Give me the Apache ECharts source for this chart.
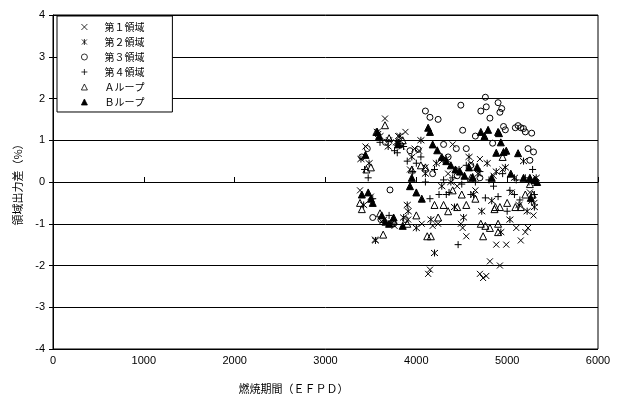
<!DOCTYPE html>
<html>
<head>
<meta charset="utf-8">
<script src="https://cdn.jsdelivr.net/npm/echarts@6/dist/echarts.min.js"></script>
<style>
  html, body { margin: 0; padding: 0; background: #fff; }
  #chart { width: 620px; height: 399px; }
</style>
</head>
<body>
<div id="chart"></div>
<script>
// axis ticks
const X_MIN = 0, X_MAX = 6000, X_STEP = 1000;
const Y_MIN = -4, Y_MAX = 4, Y_STEP = 1;

// legend labels
const seriesNames = ['第１領域', '第２領域', '第３領域', '第４領域', 'Ａループ', 'Ｂループ'];

// [EFPD, %]
const region1 = [
  [3380,-0.2],[3440,0.85],[3500,-0.35],[3545,-1.38],[3580,1.15],[3620,-0.95],[3655,1.52],[3700,1.0],
  [3760,-1.05],[3800,1.1],[3840,0.85],[3880,1.2],[3910,-0.9],[3930,0.3],[3980,0.8],[4030,0.75],
  [4060,-1.0],[4100,0.35],[4130,-2.2],[4150,-2.1],[4180,-1.05],[4240,-1.0],[4280,0.5],[4350,0.2],
  [4400,0.9],[4450,-0.1],[4490,-1.0],[4510,-1.1],[4550,-1.3],[4600,0.45],[4650,-0.2],[4700,-2.2],
  [4735,-2.3],[4770,-2.25],[4810,-1.9],[4880,-1.5],[4920,-2.0],[4990,-1.5],[4950,0.3],[5050,-0.25],
  [5100,-1.1],[5150,-1.4],[5200,-1.2],[5230,-1.1],[5250,-0.25],[5290,-0.8],[5300,-0.5],[4700,0.55],[4850,0.15]
];
const region2 = [
  [3390,0.55],[3420,-0.55],[3480,0.45],[3550,-1.4],[3570,1.2],[3600,1.1],[3640,-0.9],[3690,0.85],
  [3720,-1.0],[3780,0.95],[3820,1.1],[3860,-0.85],[3900,-0.55],[3910,-0.7],[3950,0.6],[4000,-1.1],
  [4050,1.0],[4100,0.2],[4160,-0.9],[4200,-1.7],[4220,0.45],[4280,-0.1],[4330,0.55],[4380,0.0],
  [4420,-0.6],[4470,0.3],[4520,-0.85],[4580,0.6],[4630,-0.3],[4680,0.2],[4720,-0.7],[4780,0.45],
  [4830,-0.45],[4880,0.25],[4930,-1.2],[4980,0.35],[5030,-0.9],[5080,0.1],[5130,-0.55],[5180,0.5],
  [5220,-0.7],[5270,-0.45],[5300,-0.6],[5320,0.1]
];
const region3 = [
  [3400,0.6],[3460,0.8],[3520,-0.85],[3610,-0.9],[3660,0.95],[3710,-0.19],[3750,-1.0],[3820,0.9],
  [3880,-0.9],[3930,0.75],[4020,0.78],[4100,1.7],[4150,1.55],[4180,0.2],[4240,1.5],[4300,0.9],
  [4350,0.6],[4440,0.8],[4490,1.84],[4510,1.24],[4550,0.8],[4600,0.4],[4650,1.1],[4710,1.7],
  [4760,2.03],[4770,1.8],[4810,1.53],[4840,0.93],[4900,1.9],[4920,1.67],[4940,1.76],[4960,1.33],
  [4980,1.25],[5090,1.3],[5120,1.35],[5150,1.3],[5180,1.28],[5200,1.2],[5230,0.8],[5270,1.17],
  [5250,0.52],[5290,0.72],[4700,0.1],[4450,0.15]
];
const region4 = [
  [3430,0.3],[3470,0.1],[3520,-0.4],[3600,0.95],[3700,-0.8],[3760,0.75],[3790,0.7],[3860,0.85],
  [3900,0.5],[3960,0.25],[4000,0.45],[4050,0.6],[4100,0.0],[4150,-0.4],[4200,0.3],[4250,-0.3],
  [4300,0.05],[4330,-0.3],[4360,-0.25],[4400,0.1],[4460,-1.5],[4500,-0.05],[4550,0.4],[4600,-0.3],
  [4650,0.0],[4700,0.25],[4760,-0.38],[4800,0.05],[4850,-0.1],[4900,-0.35],[4950,0.2],[5000,-0.7],
  [5030,-0.2],[5080,-0.3],[5100,0.05],[5140,-0.43],[5200,0.1],[5240,0.0],[5280,0.3],[5300,-0.3],[5310,0.05]
];
const loopA = [
  [3380,-0.5],[3400,-0.65],[3450,0.3],[3500,0.35],[3560,1.2],[3600,-0.75],[3635,-1.26],[3655,1.36],
  [3700,1.05],[3740,-0.9],[3800,0.95],[3850,1.0],[3900,-1.0],[3950,0.3],[4000,-0.8],[4050,0.4],
  [4100,0.35],[4120,-1.3],[4160,-1.3],[4200,-0.55],[4240,-0.85],[4300,-0.55],[4350,-0.7],[4400,-0.2],
  [4450,-0.6],[4500,-0.3],[4550,-0.55],[4600,0.1],[4650,-0.4],[4710,-1.0],[4735,-1.3],[4760,-1.05],
  [4810,-1.1],[4860,-0.65],[4870,-0.6],[4900,-1.0],[4900,-1.2],[4920,-0.6],[4950,0.6],[5000,-0.5],
  [5090,-0.6],[5150,-0.6],[5200,-0.3],[5250,-0.05],[5280,-0.3]
];
const loopB = [
  [3400,-0.3],[3440,0.65],[3470,-0.25],[3500,-0.4],[3520,-0.5],[3570,1.2],[3590,1.1],[3620,-0.8],
  [3660,-0.95],[3700,-1.0],[3750,-0.85],[3800,0.9],[3850,-1.05],[3930,-0.1],[3950,0.1],[4000,-0.25],
  [4060,-0.4],[4130,1.3],[4150,1.2],[4180,0.9],[4230,0.76],[4280,0.6],[4330,0.5],[4380,0.4],
  [4430,0.3],[4480,0.25],[4530,0.15],[4580,0.35],[4620,0.12],[4670,0.36],[4710,1.2],[4750,1.1],
  [4790,1.25],[4830,0.1],[4880,0.7],[4900,1.2],[4910,1.17],[4930,0.95],[4960,0.72],[4990,0.75],
  [5040,0.2],[5120,0.69],[5180,0.1],[5250,0.1],[5260,-0.38],[5300,0.05],[5330,0.0]
];

const seriesData = [region1, region2, region3, region4, loopA, loopB];

// marker look per series
const CLEAR = 'rgba(0,0,0,0)';
const markers = [
  { symbol: 'path://M0,0L10,10M10,0L0,10', size: 6, fill: CLEAR },
  { symbol: 'path://M0,0L10,10M10,0L0,10M5,-1L5,11', size: 7, fill: CLEAR },
  { symbol: 'circle', size: 6, fill: CLEAR },
  { symbol: 'path://M0,5L10,5M5,0L5,10', size: 7, fill: CLEAR },
  { symbol: 'triangle', size: 7, fill: CLEAR },
  { symbol: 'triangle', size: 7, fill: '#000' }
];

const labelFont = '"Liberation Sans Narrow", "Liberation Sans", sans-serif';
const jpFont = '"Noto Sans CJK JP", sans-serif';

const chart = echarts.init(document.getElementById('chart'), null, { renderer: 'canvas' });

chart.setOption({
  animation: false,
  backgroundColor: '#fff',
  grid: {
    left: 53, right: 22, top: 15, bottom: 49,
    show: true, borderColor: '#000', borderWidth: 1
  },
  legend: {
    orient: 'vertical',
    left: 57, top: 16,
    padding: [6, 28, 5, 24],
    itemGap: 5,
    itemWidth: 6, itemHeight: 6,
    borderColor: '#000', borderWidth: 1,
    borderRadius: 0,
    backgroundColor: '#fff',
    itemStyle: { borderWidth: 0.8 },
    textStyle: { fontFamily: jpFont, fontSize: 10, color: '#000', padding: [0, 0, 0, 12] },
    data: seriesNames
  },
  xAxis: {
    type: 'value',
    min: X_MIN, max: X_MAX, interval: X_STEP,
    name: '燃焼期間（ＥＦＰＤ）',
    nameLocation: 'middle',
    nameGap: 34,
    nameTextStyle: { fontFamily: jpFont, fontSize: 11, color: '#000', padding: [0, 64, 0, 0] },
    axisLine: { lineStyle: { color: '#000' } },
    axisTick: { inside: true, length: 5, lineStyle: { color: '#000' } },
    axisLabel: { fontFamily: labelFont, fontSize: 11, color: '#000', margin: 6, formatter: v => String(v) },
    splitLine: { show: false }
  },
  yAxis: {
    type: 'value',
    min: Y_MIN, max: Y_MAX, interval: Y_STEP,
    name: '領域出力差（%）',
    nameLocation: 'middle',
    nameRotate: 90,
    nameGap: 30,
    nameTextStyle: { fontFamily: jpFont, fontSize: 11, color: '#000' },
    axisLine: { show: true, lineStyle: { color: '#000' } },
    axisTick: { show: true, inside: false, length: 4, lineStyle: { color: '#000' } },
    axisLabel: { fontFamily: labelFont, fontSize: 11, color: '#000', margin: 8 },
    splitLine: { show: true, lineStyle: { color: '#000', width: 1 } }
  },
  series: seriesNames.map((name, i) => ({
    name,
    type: 'scatter',
    data: seriesData[i],
    symbol: markers[i].symbol,
    symbolSize: markers[i].size,
    itemStyle: { color: markers[i].fill, borderColor: '#000', borderWidth: 1, opacity: 1 },
    emphasis: { disabled: true }
  }))
});
</script>
</body>
</html>
